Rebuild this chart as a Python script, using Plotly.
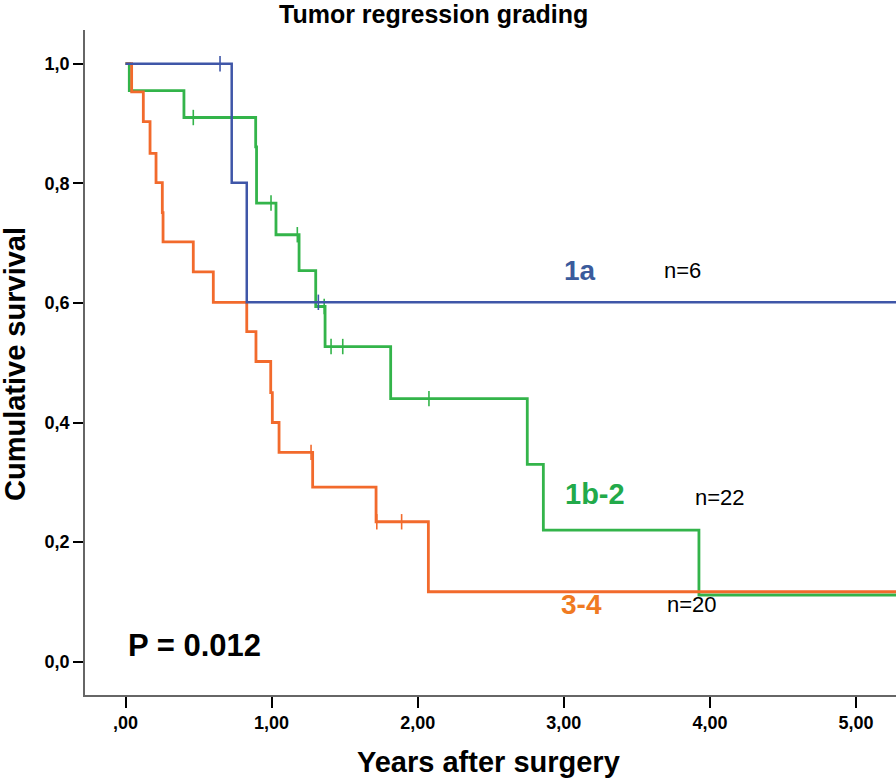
import plotly.graph_objects as go

# ---- data ----
x_end = 5.4

blue_event_t = [0.727, 0.83]
blue_event_s = [0.801, 0.601]
blue_cens_t = [0.647, 1.32]

green_event_t = [0.026, 0.40, 0.891, 0.897, 1.03, 1.188, 1.302, 1.366, 1.815, 2.75, 2.86, 3.925]
green_event_s = [0.955, 0.910, 0.861, 0.767, 0.714, 0.654, 0.594, 0.527, 0.440, 0.330, 0.220, 0.1115]
green_cens_t = [0.464, 0.996, 1.176, 1.36, 1.407, 1.487, 2.077]

orange_event_t = [0.042, 0.122, 0.168, 0.209, 0.252, 0.257, 0.464, 0.601, 0.83, 0.893,
                  0.994, 1.005, 1.051, 1.281, 1.715, 2.073]
orange_event_s = [0.953, 0.903, 0.850, 0.801, 0.751, 0.702, 0.652, 0.601, 0.552, 0.502,
                  0.450, 0.400, 0.350, 0.292, 0.234, 0.117]
orange_cens_t = [1.27, 1.72, 1.89]

y_ticks = [0.0, 0.2, 0.4, 0.6, 0.8, 1.0]
y_tick_labels = ["0,0", "0,2", "0,4", "0,6", "0,8", "1,0"]
x_ticks = [0, 1, 2, 3, 4, 5]
x_tick_labels = [",00", "1,00", "2,00", "3,00", "4,00", "5,00"]

BLUE = "#3f56a8"
GREEN = "#33b44a"
ORANGE = "#f26a2c"


def km_path(ev_t, ev_s):
    xs = [0.0] + list(ev_t) + [x_end]
    ys = [1.0] + list(ev_s) + [ev_s[-1]]
    return xs, ys


def surv_at(t, ev_t, ev_s):
    s = 1.0
    for et, es in zip(ev_t, ev_s):
        if et <= t:
            s = es
    return s


fig = go.Figure()

for ev_t, ev_s, cens, col, w in [
    (green_event_t, green_event_s, green_cens_t, GREEN, 2.8),
    (orange_event_t, orange_event_s, orange_cens_t, ORANGE, 2.8),
    (blue_event_t, blue_event_s, blue_cens_t, BLUE, 2.5),
]:
    xs, ys = km_path(ev_t, ev_s)
    fig.add_trace(go.Scatter(x=xs, y=ys, mode="lines", line=dict(color=col, width=w, shape="hv"),
                             showlegend=False, hoverinfo="skip"))
    fig.add_trace(go.Scatter(x=cens, y=[surv_at(t, ev_t, ev_s) for t in cens], mode="markers",
                             marker=dict(symbol="line-ns", size=11, line=dict(color=col, width=1.6)),
                             showlegend=False, hoverinfo="skip"))

W, H = 896, 779
PL, PT, PB = 85, 30, 695          # plot area edges in page pixels
L, T, B, R = PL, PT, H - PB, 0
pw, ph = W - PL, PB - PT


def px(x):
    return (x - PL) / pw


def py(y):
    return (PB - y) / ph


FONT = "Liberation Sans, Arial, sans-serif"
ann = []


def add_text(text, x, y, size, color="black", bold=True, family=FONT, angle=0):
    ann.append(dict(text=text, x=px(x), y=py(y), xref="paper", yref="paper", showarrow=False,
                    xanchor="center", yanchor="middle", textangle=angle,
                    font=dict(family=family, size=size, color=color, weight="bold" if bold else "normal")))


add_text("Tumor regression grading", 433, 14, 25)
add_text("Cumulative survival", 15, 364, 29, angle=-90)
add_text("Years after surgery", 488, 762, 29)
add_text("1a", 579.5, 270, 28, color="#3a5b9c")
add_text("n=6", 682, 270, 22, bold=False)
add_text("1b-2", 595, 494, 29, color="#22aa4a")
add_text("n=22", 720, 497, 22, bold=False)
add_text("3-4", 581, 604, 28, color="#f07a22")
add_text("n=20", 692, 604, 22, bold=False)
add_text("P = 0.012", 194, 645, 31)

fig.update_layout(
    width=W, height=H,
    margin=dict(l=L, r=R, t=T, b=B, autoexpand=False),
    paper_bgcolor="white", plot_bgcolor="white",
    annotations=ann,
    font=dict(family=FONT, color="black"),
)
fig.update_xaxes(range=[(PL - 125.5) / 146.1, (W - 125.5) / 146.1], tickvals=x_ticks, ticktext=x_tick_labels,
                 showgrid=False, zeroline=False, showline=True, linecolor="#666666", linewidth=1.5,
                 ticks="outside", ticklen=11, tickwidth=2, tickcolor="black",
                 tickfont=dict(size=18, family=FONT, weight="bold"), automargin=False)
fig.update_yaxes(range=[(661.7 - PB) / 598, (661.7 - PT) / 598], tickvals=y_ticks, ticktext=y_tick_labels,
                 showgrid=False, zeroline=False, showline=True, linecolor="#666666", linewidth=1.5,
                 ticks="outside", ticklen=10, tickwidth=2, tickcolor="black",
                 tickfont=dict(size=18, family=FONT, weight="bold"), automargin=False)

fig.write_html("out.html", config={"displayModeBar": False},
               post_script="document.body.style.margin='0px';document.body.style.overflow='hidden';")
